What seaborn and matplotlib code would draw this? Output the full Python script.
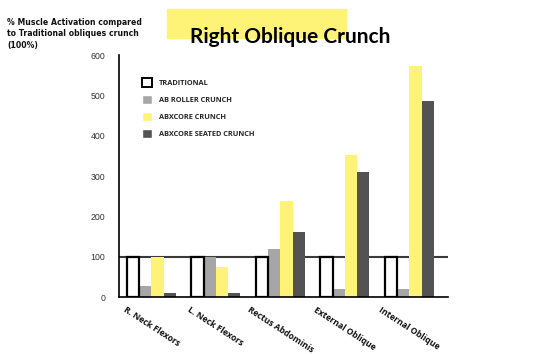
import numpy as np
import pandas as pd
import matplotlib
matplotlib.use("Agg")
import matplotlib.pyplot as plt
import matplotlib.patches as mpatches
import seaborn as sns

# data
muscles = ["R. Neck Flexors", "L. Neck Flexors", "Rectus Abdominis", "External Oblique", "Internal Oblique"]
exercises = ["TRADITIONAL", "AB ROLLER CRUNCH", "ABXCORE CRUNCH", "ABXCORE SEATED CRUNCH"]
traditional = [100, 100, 100, 100, 100]
ab_roller = [27, 100, 119, 20, 20]
abxcore = [100, 75, 238, 352, 573]
abxcore_seated = [10, 10, 160, 310, 487]

colors = ["#FFFFFF", "#A6A6A6", "#FFF377", "#535353"]

rows = []
for name, vals in zip(exercises, [traditional, ab_roller, abxcore, abxcore_seated]):
    for m, v in zip(muscles, vals):
        rows.append({"Muscle": m, "Exercise": name, "Value": v})
df = pd.DataFrame(rows)

sns.set_style("white")
fig = plt.figure(figsize=(5.5, 3.54), dpi=100)
ax = fig.add_axes([0.2164, 0.161, 0.5981, 0.6836])

ax.axhline(100, color="#3a3a3a", lw=1.5, zorder=0.5)

sns.barplot(data=df, x="Muscle", y="Value", hue="Exercise", order=muscles,
            hue_order=exercises, palette=colors, width=0.76, saturation=1,
            ax=ax, zorder=2, legend=False)

# coloured bars: no outline so they sit flush against each other
for cont in ax.containers[1:]:
    for bar in cont:
        bar.set_linewidth(0)
        bar.set_edgecolor("none")

# traditional bars: white with a black outline, drawn on top
for bar in ax.containers[0]:
    bar.set_edgecolor("black")
    bar.set_linewidth(1.6)
    bar.set_facecolor("white")
    bar.set_zorder(3)

ax.set_xlim(-0.5, 4.6)
ax.set_ylim(0, 600)
ax.set_yticks(range(0, 601, 100))
ax.set_xlabel("")
ax.set_ylabel("")
for s in ["top", "right"]:
    ax.spines[s].set_visible(False)
for s in ["left", "bottom"]:
    ax.spines[s].set_color("black")
    ax.spines[s].set_linewidth(1.2)
    ax.spines[s].set_zorder(4)

ax.tick_params(axis="y", length=2, pad=8, labelsize=6.3, labelcolor="#333333")
ax.tick_params(axis="x", length=0, pad=6)
for lab in ax.get_yticklabels():
    lab.set_fontfamily("Liberation Sans")
ax.set_xticks(range(len(muscles)))
ax.set_xticklabels(muscles, rotation=-33, ha="center", va="top",
                   fontsize=6.2, fontweight="bold", fontfamily="Open Sans", color="#111111")

handles = [
    mpatches.Patch(facecolor="white", edgecolor="black", linewidth=1.4, label=exercises[0]),
    mpatches.Patch(facecolor=colors[1], label=exercises[1]),
    mpatches.Patch(facecolor=colors[2], label=exercises[2]),
    mpatches.Patch(facecolor=colors[3], label=exercises[3]),
]
leg = ax.legend(handles=handles, loc="upper left", bbox_to_anchor=(0.07, 0.905),
                frameon=False, borderpad=0, borderaxespad=0,
                handlelength=1.4, handleheight=1.4, labelspacing=1.15,
                handletextpad=0.9, prop={"family": "Open Sans", "weight": "bold", "size": 5.3})

# title with yellow highlight block behind it
fig.patches.append(mpatches.Rectangle((0.3036, 0.8927), 0.3255, 0.0819,
                                      transform=fig.transFigure, color="#FFF377", zorder=0))
fig.text(0.527, 0.895, "Right Oblique Crunch", ha="center", va="center",
         fontsize=15, fontweight="bold", fontfamily="Lato", color="black", zorder=3)

fig.text(0.013, 0.95, "% Muscle Activation compared\nto Traditional obliques crunch\n(100%)",
         ha="left", va="top", fontsize=5.6, fontweight="bold", linespacing=1.4,
         color="#111111")

fig.savefig("out.png", dpi=100)
